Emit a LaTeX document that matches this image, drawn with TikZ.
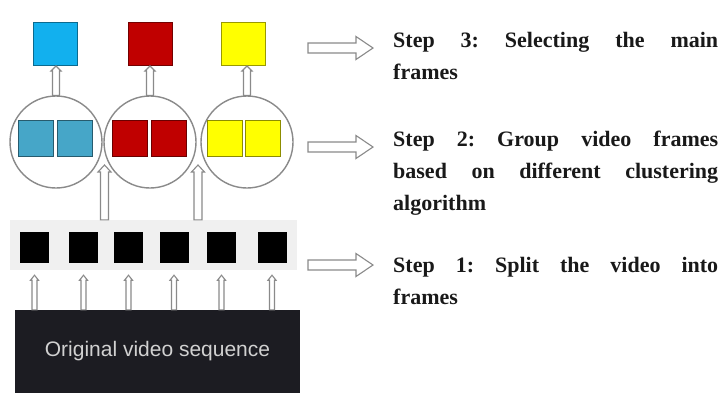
\documentclass[tikz,border=0pt]{standalone}
\usepackage{fontspec}
\setmainfont{Liberation Serif}
\newfontfamily\labelsans{Liberation Sans}
\usetikzlibrary{calc}
\definecolor{topblue}{HTML}{12B0EE}
\definecolor{inblue}{HTML}{46A6C8}
\definecolor{myred}{HTML}{C00000}
\definecolor{myyellow}{HTML}{FFFF00}
\definecolor{bandgray}{HTML}{F0F0F0}
\definecolor{boxdark}{HTML}{1C1C22}
\definecolor{arrgray}{HTML}{8A8A8A}
\tikzset{
  sq/.style={draw=#1!60!black, line width=1pt, fill=#1, inner sep=0pt, minimum width=44pt, minimum height=43pt},
  insq/.style={draw=#1!55!black, line width=1pt, fill=#1, inner sep=0pt, minimum width=35pt, minimum height=36pt},
  clus/.style={draw=arrgray, line width=1.4pt, circle, minimum size=92pt, inner sep=0pt},
  frm/.style={fill=black, inner sep=0pt, minimum width=29pt, minimum height=31pt},
  hollow/.style={draw=arrgray, line width=1.1pt, fill=white, line join=miter},
  steptext/.style={anchor=north west, inner sep=0pt, text width=325pt, align=justify,
     font=\bfseries\fontsize{22}{32}\selectfont\frenchspacing, text=black!90}
}
% upward hollow arrow: from, to (tip), half shaft, half head, head length
\newcommand\hup[5]{%
  \draw[hollow] let \p1=(#1), \p2=(#2) in
    (\x1-#3,\y1) -- (\x1-#3,\y2-#5) -- (\x1-#4,\y2-#5) -- (\x1,\y2) --
    (\x1+#4,\y2-#5) -- (\x1+#3,\y2-#5) -- (\x1+#3,\y1) -- cycle;}
% rightward hollow arrow
\newcommand\hright[5]{%
  \draw[hollow] let \p1=(#1), \p2=(#2) in
    (\x1,\y1-#3) -- (\x2-#5,\y1-#3) -- (\x2-#5,\y1-#4) -- (\x2,\y1) --
    (\x2-#5,\y1+#4) -- (\x2-#5,\y1+#3) -- (\x1,\y1+#3) -- cycle;}
\begin{document}
\begin{tikzpicture}[x=1pt,y=-1pt]
\useasboundingbox (0,0) rectangle (720,408);
% top selected frames
\node[sq=topblue] (t1) at (55.5,44) {};
\node[sq=myred] (t2) at (150,44) {};
\node[sq=myyellow] (t3) at (243.5,44) {};
% clusters
\node[clus] (c1) at (56,142) {};
\node[clus] (c2) at (150,142) {};
\node[clus] (c3) at (247,142) {};
\node[insq=inblue] (b1) at (36,138.5) {};
\node[insq=inblue] (b2) at (75,138.5) {};
\node[insq=myred] (r1) at (130,138.5) {};
\node[insq=myred] (r2) at (169,138.5) {};
\node[insq=myyellow] (y1) at (225,138.5) {};
\node[insq=myyellow] (y2) at (263,138.5) {};
% frames band
\node[fill=bandgray, inner sep=0pt, minimum width=287pt, minimum height=50pt] (band) at (153.5,245) {};
\node[frm] (f1) at (34.5,247.5) {};
\node[frm] (f2) at (83.5,247.5) {};
\node[frm] (f3) at (128.5,247.5) {};
\node[frm] (f4) at (174,247.5) {};
\node[frm] (f5) at (221.5,247.5) {};
\node[frm] (f6) at (272,247.5) {};
% video
\node[fill=boxdark, inner sep=0pt, minimum width=285pt, minimum height=83pt,
      text=black!18, font=\labelsans\fontsize{21}{24}\selectfont] (video) at (157.5,351.5) {Original video sequence};
% connectors: clusters to selected frames
\hup{c1.north}{t1.south}{3.5pt}{5pt}{5pt}
\hup{c2.north}{t2.south}{3.5pt}{5pt}{5pt}
\hup{c3.north}{t3.south}{3.5pt}{5pt}{5pt}
% frames to clusters
\coordinate (j1) at (104.5,165);
\coordinate (j2) at (198,165);
\hup{j1 |- band.north}{j1}{4pt}{6.5pt}{7pt}
\hup{j2 |- band.north}{j2}{4pt}{6.5pt}{7pt}
% video to frames
\foreach \i in {1,...,6} {
  \hup{f\i |- video.north}{[yshift=-5pt]f\i |- band.south}{2.5pt}{4pt}{5pt}
}
% step arrows and texts
\coordinate (a3s) at (308,48);  \coordinate (a3e) at (373,48);
\coordinate (a2s) at (308,147); \coordinate (a2e) at (373,147);
\coordinate (a1s) at (308,265); \coordinate (a1e) at (373,265);
\hright{a3s}{a3e}{5pt}{11.5pt}{17pt}
\hright{a2s}{a2e}{5pt}{11.5pt}{17pt}
\hright{a1s}{a1e}{5pt}{11.5pt}{17pt}
\node[steptext] (x3) at (393,32) {Step 3: Selecting the main\linebreak frames};
\node[steptext] (x2) at (393,131) {Step 2: Group video frames\linebreak based on different clustering\linebreak algorithm};
\node[steptext] (x1) at (393,257) {Step 1: Split the video into\linebreak frames};
\end{tikzpicture}
\end{document}
